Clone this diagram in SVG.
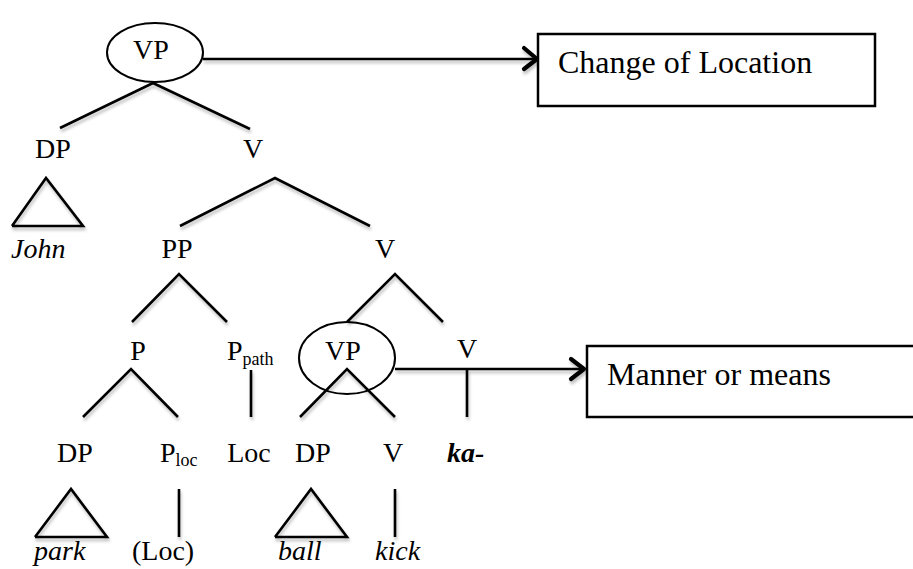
<svg xmlns="http://www.w3.org/2000/svg" width="913" height="569" viewBox="0 0 913 569" font-family="Liberation Serif, Times New Roman, serif">
<defs>
<filter id="sh" x="-10%" y="-10%" width="120%" height="150%">
<feDropShadow dx="1" dy="3" stdDeviation="1.5" flood-color="#000" flood-opacity="0.25"/>
</filter>
<style>
.m{text-anchor:middle}
.i{font-style:italic}
.b{font-weight:bold}
.sub{font-size:18px}
.box{font-size:32px}
.ln{stroke:#000;stroke-width:2.6;fill:none;stroke-linecap:butt;stroke-linejoin:miter}
.el{stroke:#000;stroke-width:2;fill:none}
.rc{stroke:#000;stroke-width:2.5;fill:#fff}
.hd{stroke:#000;stroke-width:4.2;fill:none;stroke-linecap:round;stroke-linejoin:round}
</style>
</defs>
<rect width="913" height="569" fill="#fff"/>

<g id="connectors" filter="url(#sh)">
<polyline class="ln" points="60,128 153,83 250,129"/>
<polyline class="ln" points="12,226 46,178 83,226 12,226"/>
<polyline class="ln" points="180,226 275,178 370,226"/>
<polyline class="ln" points="132,322 179,274 227,322"/>
<polyline class="ln" points="347,322 395,274 443,322"/>
<polyline class="ln" points="83,417 131,369 178,417"/>
<line class="ln" x1="251" y1="370" x2="251" y2="417"/>
<polyline class="ln" points="300,417 347,369 395,417"/>
<line class="ln" x1="467" y1="369" x2="467" y2="417"/>
<polyline class="ln" points="35,537 71,489 107,537 35,537"/>
<line class="ln" x1="179" y1="489" x2="179" y2="537"/>
<polyline class="ln" points="275,537 311,489 347,537 275,537"/>
<line class="ln" x1="395" y1="489" x2="395" y2="537"/>
<line class="ln" x1="203" y1="59" x2="536" y2="59"/>
<polyline class="hd" points="524,48 537,59 524,69"/>
<line class="ln" x1="395" y1="369" x2="584" y2="369"/>
<polyline class="hd" points="571,359 584,369 571,379"/>
</g>

<g font-family="Liberation Serif, serif" font-size="28" fill="#000">
<g id="n-vp-top">
<ellipse class="el" cx="155" cy="52.5" rx="48" ry="29.5"/>
<text class="m" x="151" y="59">VP</text>
</g>
<g id="n-change">
<rect class="rc" x="538" y="34" width="337" height="72"/>
<text class="box" x="558" y="73">Change of Location</text>
</g>
<g id="n-dp1"><text class="m" x="53" y="158">DP</text></g>
<g id="n-v1"><text class="m" x="253" y="158">V</text></g>
<g id="n-john"><text class="i" x="11" y="258">John</text></g>
<g id="n-pp"><text class="m" x="177" y="258">PP</text></g>
<g id="n-v2"><text class="m" x="385" y="258">V</text></g>
<g id="n-p"><text class="m" x="138" y="360">P</text></g>
<g id="n-ppath"><text x="227" y="360">P<tspan class="sub" dy="5">path</tspan></text></g>
<g id="n-vp2">
<ellipse class="el" cx="347" cy="358" rx="48" ry="36"/>
<text class="m" x="343" y="360">VP</text>
</g>
<g id="n-v3"><text class="m" x="467" y="358">V</text></g>
<g id="n-manner">
<rect class="rc" x="587" y="346" width="340" height="71"/>
<text class="box" x="607" y="385">Manner or means</text>
</g>
<g id="n-dp2"><text class="m" x="75" y="462">DP</text></g>
<g id="n-ploc"><text x="160" y="462">P<tspan class="sub" dy="4">loc</tspan></text></g>
<g id="n-loc"><text class="m" x="249" y="462">Loc</text></g>
<g id="n-dp3"><text class="m" x="313" y="462">DP</text></g>
<g id="n-v4"><text class="m" x="393" y="462">V</text></g>
<g id="n-ka"><text class="i b" x="447" y="462">ka-</text></g>
<g id="n-park"><text class="i" x="34" y="560">park</text></g>
<g id="n-locp"><text x="132" y="560">(Loc)</text></g>
<g id="n-ball"><text class="i" x="278" y="560">ball</text></g>
<g id="n-kick"><text class="i" x="375" y="560">kick</text></g>
</g>
</svg>
